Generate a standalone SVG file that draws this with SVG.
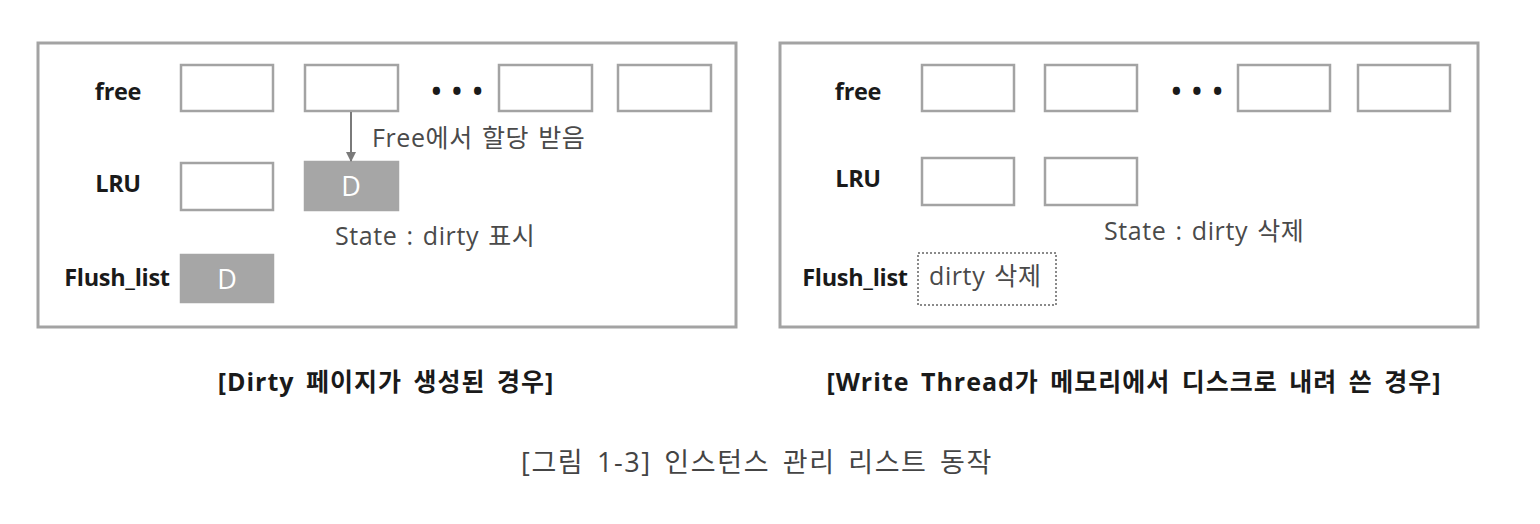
<svg xmlns="http://www.w3.org/2000/svg" width="1540" height="524" viewBox="0 0 1540 524">
<defs>
<style>
.panel{fill:#fff;stroke:#a3a3a3;stroke-width:3}
.box{fill:#fff;stroke:#a3a3a3;stroke-width:2.5}
.dbox{fill:#a6a6a6;stroke:#a6a6a6;stroke-width:2.5}
.lbl{font-family:"Open Sans","Noto Sans CJK KR",sans-serif;font-weight:bold;font-size:23.5px;fill:#1a1a1a;letter-spacing:-0.3px}
.note{font-family:"Open Sans","Noto Sans CJK KR",sans-serif;font-size:25px;fill:#4a4a4a;letter-spacing:0.6px;word-spacing:2px}
.dl{font-family:"Open Sans","Noto Sans CJK KR",sans-serif;font-size:27px;fill:#fff}
.cap{font-family:"Open Sans","Noto Sans CJK KR",sans-serif;font-weight:bold;font-size:25px;fill:#1a1a1a;letter-spacing:1px;word-spacing:4px}
.fig{font-family:"Open Sans","Noto Sans CJK KR",sans-serif;font-size:27px;fill:#444;letter-spacing:1.6px;word-spacing:4px}
.dots{font-family:"Open Sans",sans-serif;font-weight:bold;font-size:26px;fill:#1a1a1a;letter-spacing:2px}
</style>
<marker id="ah" markerWidth="10" markerHeight="10" refX="9" refY="5" orient="auto" markerUnits="userSpaceOnUse" viewBox="0 0 10 10">
<path d="M0,0 L10,5 L0,10 z" fill="#7a7a7a"/>
</marker>
</defs>
<rect width="1540" height="524" fill="#fff"/>

<g id="panel-left">
<rect class="panel" x="38" y="43" width="698" height="284"/>
<text class="lbl" x="118" y="100" text-anchor="middle">free</text>
<text class="lbl" x="118" y="192" text-anchor="middle">LRU</text>
<text class="lbl" x="117" y="286" text-anchor="middle">Flush_list</text>
</g>
<g id="left-free-1"><rect class="box" x="181" y="65" width="92" height="46"/></g>
<g id="left-free-2"><rect class="box" x="305" y="65" width="93" height="46"/></g>
<g id="left-dots"><text class="dots" x="458" y="101" text-anchor="middle">• • •</text></g>
<g id="left-free-3"><rect class="box" x="499" y="65" width="93" height="46"/></g>
<g id="left-free-4"><rect class="box" x="618" y="65" width="93" height="46"/></g>
<g id="left-lru-1"><rect class="box" x="181" y="163" width="92" height="47"/></g>
<g id="left-lru-2"><rect class="dbox" x="305" y="162" width="93" height="48"/><text class="dl" x="351" y="196" text-anchor="middle">D</text></g>
<g id="left-flush-1"><rect class="dbox" x="181" y="255" width="92" height="47"/><text class="dl" x="227" y="289" text-anchor="middle">D</text></g>
<g id="left-notes">
<text class="note" x="372" y="147">Free에서 할당 받음</text>
<text class="note" x="335" y="245">State : dirty 표시</text>
</g>

<g id="panel-right">
<rect class="panel" x="780" y="43" width="698" height="284"/>
<text class="lbl" x="858" y="100" text-anchor="middle">free</text>
<text class="lbl" x="858" y="187" text-anchor="middle">LRU</text>
<text class="lbl" x="855" y="286" text-anchor="middle">Flush_list</text>
</g>
<g id="right-free-1"><rect class="box" x="922" y="65" width="92" height="46"/></g>
<g id="right-free-2"><rect class="box" x="1045" y="65" width="92" height="46"/></g>
<g id="right-dots"><text class="dots" x="1198" y="101" text-anchor="middle">• • •</text></g>
<g id="right-free-3"><rect class="box" x="1238" y="65" width="92" height="46"/></g>
<g id="right-free-4"><rect class="box" x="1358" y="65" width="92" height="46"/></g>
<g id="right-lru-1"><rect class="box" x="922" y="158" width="92" height="47"/></g>
<g id="right-lru-2"><rect class="box" x="1045" y="158" width="92" height="47"/></g>
<g id="right-flush"><rect x="918" y="253" width="138" height="52" fill="#fff" stroke="#8a8a8a" stroke-width="2" stroke-dasharray="2,2"/><text class="note" x="929" y="285">dirty 삭제</text></g>
<g id="right-notes">
<text class="note" x="1104" y="240">State : dirty 삭제</text>
</g>

<g id="connectors">
<line x1="351" y1="112" x2="351" y2="161" stroke="#7a7a7a" stroke-width="2" marker-end="url(#ah)"/>
</g>

<g id="captions">
<text class="cap" x="386" y="391" text-anchor="middle">[Dirty 페이지가 생성된 경우]</text>
<text class="cap" x="1134" y="391" text-anchor="middle">[Write Thread가 메모리에서 디스크로 내려 쓴 경우]</text>
<text class="fig" x="757" y="472" text-anchor="middle">[그림 1-3] 인스턴스 관리 리스트 동작</text>
</g>
</svg>
